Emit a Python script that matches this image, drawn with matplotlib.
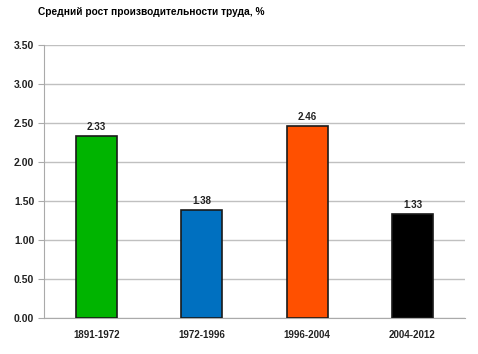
import matplotlib.pyplot as plt

periods = ["1891-1972", "1972-1996", "1996-2004", "2004-2012"]
growth = [2.33, 1.38, 2.46, 1.33]
colors = ["#00b400", "#0070c0", "#ff5000", "#000000"]
yticks = [0.0, 0.5, 1.0, 1.5, 2.0, 2.5, 3.0, 3.5]

plt.rcParams["font.family"] = ["Liberation Sans", "DejaVu Sans"]

fig = plt.figure(figsize=(4.78, 3.54), dpi=100)
ax = fig.add_axes([0.092, 0.102, 0.881, 0.771])

x = range(len(periods))
bars = ax.bar(x, growth, width=0.39, color=colors, edgecolor="#1a1a1a", linewidth=1.2, zorder=3)

for b, v in zip(bars, growth):
    ax.text(b.get_x() + b.get_width() / 2, v + 0.05, f"{v:.2f}",
            ha="center", va="bottom", fontsize=7, fontweight="bold", color="#222222")

ax.set_xlim(-0.5, 3.5)
ax.set_ylim(0, 3.5)
ax.set_yticks(yticks)
ax.set_yticklabels([f"{t:.2f}" for t in yticks], fontsize=7.5, fontweight="bold", color="#222222")
ax.set_xticks(list(x))
ax.set_xticklabels(periods, fontsize=7, fontweight="bold", color="#222222")
ax.tick_params(axis="x", length=0, pad=9)
ax.tick_params(axis="y", length=4, color="#aaaaaa", pad=3)

ax.grid(axis="y", color="#c0c0c0", linewidth=1, zorder=0)
for s in ["top", "right"]:
    ax.spines[s].set_visible(False)
ax.spines["left"].set_color("#aaaaaa")
ax.spines["bottom"].set_color("#aaaaaa")

fig.text(0.08, 0.965, "Средний рост производительности труда, %",
         fontsize=7.3, fontweight="bold", va="center", ha="left")

fig.savefig("out.png", dpi=100)
